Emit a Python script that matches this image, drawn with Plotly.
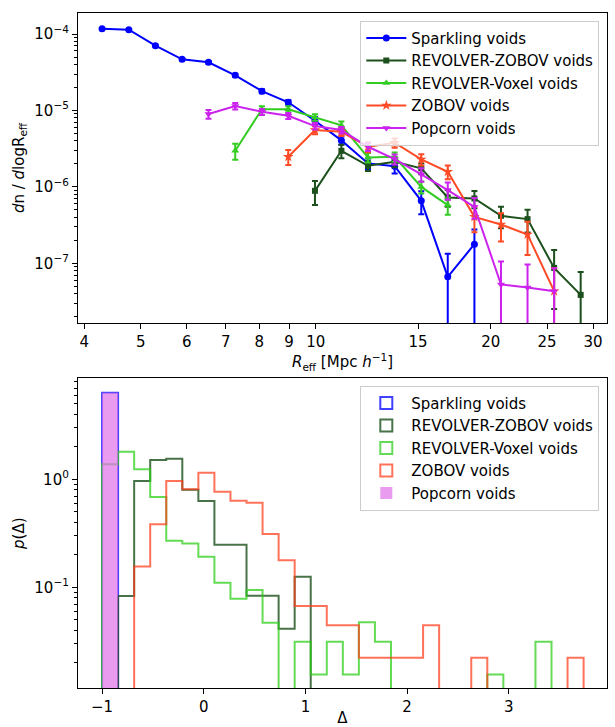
import numpy as np
import plotly.graph_objects as go

# ---------------- top panel: void size functions ----------------
LABELS = ["Sparkling voids", "REVOLVER-ZOBOV voids", "REVOLVER-Voxel voids", "ZOBOV voids", "Popcorn voids"]

sparkling_R = [4.29, 4.77, 5.30, 5.89, 6.54, 7.27, 8.08, 8.97, 9.97, 11.07, 12.30, 13.67, 15.19, 16.87, 18.75]
sparkling_n = [1.17e-4, 1.14e-4, 7.03e-5, 4.67e-5, 4.27e-5, 2.88e-5, 1.79e-5, 1.28e-5, 7.33e-6, 4.06e-6,
               2.03e-6, 1.87e-6, 6.58e-7, 6.67e-8, 1.78e-7]
sparkling_err_up = [2.3e-6, 2.3e-6, 2.1e-6, 1.6e-6, 1.7e-6, 1.4e-6, 1.1e-6, 9.0e-7, 8.8e-7, 4.9e-7,
                    3.2e-7, 3.7e-7, 2.2e-7, 6.67e-8, 1.0e-7]
sparkling_err_dn = [2.3e-6, 2.3e-6, 2.1e-6, 1.6e-6, 1.7e-6, 1.4e-6, 1.1e-6, 9.0e-7, 8.8e-7, 4.9e-7,
                    3.2e-7, 3.7e-7, 2.2e-7, 6.67e-8, 1.78e-7]

revzobov_R = [9.97, 11.07, 12.30, 13.67, 15.19, 16.87, 18.75, 20.83, 23.14, 25.71, 28.56]
revzobov_n = [8.89e-7, 2.97e-6, 1.89e-6, 2.13e-6, 1.75e-6, 7.29e-7, 7.07e-7, 4.19e-7, 3.79e-7, 8.73e-8, 3.87e-8]
revzobov_err = [3.1e-7, 5.9e-7, 2.8e-7, 3.2e-7, 2.8e-7, 1.8e-7, 1.8e-7, 1.3e-7, 1.25e-7, 6.2e-8, 3.87e-8]

revvoxel_R = [7.27, 8.08, 8.97, 9.97, 11.07, 12.30, 13.67, 15.19, 16.87]
revvoxel_n = [2.97e-6, 1.04e-5, 1.04e-5, 8.13e-6, 6.38e-6, 2.43e-6, 2.48e-6, 1.00e-6, 5.78e-7]
revvoxel_err = [7.1e-7, 9.4e-7, 9.4e-7, 8.1e-7, 7.7e-7, 3.4e-7, 3.5e-7, 1.8e-7, 1.45e-7]

zobov_R = [8.97, 9.97, 11.07, 12.30, 13.67, 15.19, 16.87, 18.75, 20.83, 23.14, 25.71]
zobov_n = [2.48e-6, 5.54e-6, 5.26e-6, 3.35e-6, 3.78e-6, 2.29e-6, 1.58e-6, 4.06e-7, 3.23e-7, 2.39e-7, 4.33e-8]
zobov_err = [5.5e-7, 6.6e-7, 6.3e-7, 5.0e-7, 5.3e-7, 3.9e-7, 3.2e-7, 1.5e-7, 1.3e-7, 1.1e-7, 4.33e-8]

popcorn_R = [6.54, 7.27, 8.08, 8.97, 9.97, 11.07, 12.30, 13.67, 15.19, 16.87, 18.75, 20.83, 23.14, 25.71]
popcorn_n = [8.97e-6, 1.14e-5, 9.62e-6, 8.53e-6, 6.25e-6, 5.54e-6, 3.35e-6, 2.31e-6, 1.46e-6, 9.09e-7,
             5.49e-7, 5.30e-8, 4.84e-8, 4.33e-8]
popcorn_err = [1.17e-6, 1.14e-6, 8.7e-7, 7.7e-7, 6.3e-7, 5.5e-7, 4.0e-7, 3.5e-7, 2.9e-7, 2.3e-7,
               1.65e-7, 5.30e-8, 4.84e-8, 4.33e-8]

R_TICKS = [4, 5, 6, 7, 8, 9, 10, 15, 20, 25, 30]

# ---------------- bottom panel: Delta distributions (density) ----------------
DELTA_EDGES = np.linspace(-1.0, 3.736, 31)
hist_sparkling = [6.33, 0, 0, 0, 0, 0, 0, 0, 0, 0, 0, 0, 0, 0, 0, 0, 0, 0, 0, 0, 0, 0, 0, 0, 0, 0, 0, 0, 0, 0]
hist_revzobov = [0, 0.0832, 0.964, 1.51, 1.55, 0.80, 0.63, 0.248, 0.248, 0.0836, 0.0836, 0.0414, 0.125,
                 0, 0, 0, 0, 0, 0, 0, 0, 0, 0, 0, 0, 0, 0, 0, 0, 0]
hist_revvoxel = [1.377, 1.80, 1.24, 0.686, 0.27, 0.255, 0.192, 0.110, 0.0784, 0.0944, 0.0469, 0, 0.0313,
                 0.0156, 0.0313, 0.0156, 0.0474, 0.0313, 0, 0, 0, 0, 0, 0, 0.0156, 0, 0, 0.0313, 0, 0]
hist_zobov = [0, 0, 0.156, 0.383, 0.964, 0.808, 1.15, 0.768, 0.634, 0.607, 0.312, 0.178, 0.0671, 0.0671,
              0.0445, 0.0445, 0.0223, 0.0223, 0.0223, 0.0223, 0.0445, 0, 0, 0.0223, 0, 0, 0, 0, 0, 0.0223]
hist_popcorn = [6.33, 0, 0, 0, 0, 0, 0, 0, 0, 0, 0, 0, 0, 0, 0, 0, 0, 0, 0, 0, 0, 0, 0, 0, 0, 0, 0, 0, 0, 0]

# ---------------- styling ----------------
C_BLUE = "#0000ff"
C_DKGREEN = "#1c501c"
C_GREEN = "#33cc22"
C_RED = "#ff4a26"
C_MAG = "#cc22ee"
H_BLUE = "rgba(0,0,255,0.75)"
H_DKGREEN = "rgba(20,75,20,0.78)"
H_GREEN = "rgba(40,205,20,0.72)"
H_RED = "rgba(255,60,25,0.72)"
H_POP = "rgba(222,112,232,0.7)"
FONT = "DejaVu Sans"

W, H = 615, 727
XL, XR = 78, 607
TOP_T, TOP_B = 13, 323
BOT_T, BOT_B = 378, 688.3

fig = go.Figure()


def add_top(x, y, eu, ed, color, symbol, size, name):
    fig.add_trace(go.Scatter(
        x=x, y=y, mode="lines+markers", name=name, legendgroup=name,
        line=dict(color=color, width=2),
        marker=dict(color=color, symbol=symbol, size=size, line=dict(width=0)),
        error_y=dict(type="data", symmetric=False, array=eu, arrayminus=ed,
                     color=color, thickness=2, width=3),
        xaxis="x", yaxis="y", legend="legend"))


add_top(sparkling_R, sparkling_n, sparkling_err_up, sparkling_err_dn, C_BLUE, "circle", 7, LABELS[0])
add_top(revzobov_R, revzobov_n, revzobov_err, revzobov_err, C_DKGREEN, "square", 6, LABELS[1])
add_top(revvoxel_R, revvoxel_n, revvoxel_err, revvoxel_err, C_GREEN, "triangle-up", 7, LABELS[2])
add_top(zobov_R, zobov_n, zobov_err, zobov_err, C_RED, "star", 8, LABELS[3])
add_top(popcorn_R, popcorn_n, popcorn_err, popcorn_err, C_MAG, "triangle-down", 7, LABELS[4])

FLOOR = 1e-4


def step_xy(edges, h):
    xs, ys = [edges[0]], [FLOOR]
    for k in range(len(h)):
        v = h[k] if h[k] > 0 else FLOOR
        xs += [edges[k], edges[k + 1]]
        ys += [v, v]
    xs.append(edges[-1])
    ys.append(FLOOR)
    return xs, ys


hists = [(hist_sparkling, H_BLUE, False), (hist_revzobov, H_DKGREEN, False),
         (hist_revvoxel, H_GREEN, False), (hist_zobov, H_RED, False), (hist_popcorn, H_POP, True)]
for h, c, filled in hists:
    xs, ys = step_xy(DELTA_EDGES, h)
    if filled:
        fig.add_trace(go.Scatter(x=xs, y=ys, mode="lines", fill="toself", fillcolor=c,
                                 line=dict(width=0, color=c), showlegend=False,
                                 hoverinfo="skip", xaxis="x2", yaxis="y2"))
    else:
        fig.add_trace(go.Scatter(x=xs, y=ys, mode="lines", line=dict(color=c, width=2),
                                 showlegend=False, hoverinfo="skip", xaxis="x2", yaxis="y2"))

# legend entries for the histograms
for (h, c, filled), name in zip(hists, LABELS):
    if filled:
        mk = dict(color=c, line=dict(width=0))
    else:
        mk = dict(color="rgba(0,0,0,0)", line=dict(color=c, width=2))
    fig.add_trace(go.Bar(x=[None], y=[None], name=name, legendgroup="h" + name, marker=mk,
                         xaxis="x2", yaxis="y2", legend="legend2"))

# ---------------- axes ----------------
xdom = [XL / W, XR / W]
top_dom = [(H - TOP_B) / H, (H - TOP_T) / H]
bot_dom = [(H - BOT_B) / H, (H - BOT_T) / H]

tickfont = dict(family=FONT, size=15, color="black")
common = dict(showline=True, linecolor="black", linewidth=1.2, mirror=True, ticks="outside",
              ticklen=5, tickwidth=1.2, tickcolor="black", showgrid=False, zeroline=False,
              tickfont=tickfont, automargin=False)

minor_top = [k * 10.0 ** e for e in range(-8, -3) for k in range(2, 10)]
minor_bot = [k * 10.0 ** e for e in range(-2, 1) for k in range(2, 10)]

fig.update_layout(
    xaxis=dict(domain=xdom, anchor="y", type="log", range=[np.log10(3.9), np.log10(31.7)],
               tickmode="array", tickvals=R_TICKS, ticktext=[str(t) for t in R_TICKS],
               title=dict(text="<i>R</i><sub>eff</sub> [Mpc <i>h</i><sup>−1</sup>]",
                          font=dict(family=FONT, size=15), standoff=2), **common),
    yaxis=dict(domain=top_dom, anchor="x", type="log", range=[-7.78, -3.725],
               tickmode="array", tickvals=[1e-7, 1e-6, 1e-5, 1e-4],
               ticktext=["10<sup>−7</sup>", "10<sup>−6</sup>", "10<sup>−5</sup>", "10<sup>−4</sup>"],
               minor=dict(tickmode="array", tickvals=minor_top, ticks="outside", ticklen=3,
                          tickcolor="black", tickwidth=0.8),
               title=dict(text="<i>d</i>n / <i>d</i>logR<sub>eff</sub>",
                          font=dict(family=FONT, size=15), standoff=6), **common),
    xaxis2=dict(domain=xdom, anchor="y2", range=[-1.2365, 3.966], tickmode="array",
                tickvals=[-1, 0, 1, 2, 3], ticktext=["−1", "0", "1", "2", "3"],
                title=dict(text="Δ", font=dict(family=FONT, size=15), standoff=6), **common),
    yaxis2=dict(domain=bot_dom, anchor="x2", type="log", range=[-1.935, 0.938],
                tickmode="array", tickvals=[0.1, 1.0], ticktext=["10<sup>−1</sup>", "10<sup>0</sup>"],
                minor=dict(tickmode="array", tickvals=minor_bot, ticks="outside", ticklen=3,
                           tickcolor="black", tickwidth=0.8),
                title=dict(text="<i>p</i>(Δ)", font=dict(family=FONT, size=15), standoff=6), **common),
    legend=dict(x=599.3 / W, xanchor="right", y=(H - 20.7) / H, yanchor="top",
                bgcolor="rgba(255,255,255,0.8)", bordercolor="#cccccc", borderwidth=1,
                font=dict(family=FONT, size=15, color="black"), traceorder="normal", itemwidth=40),
    legend2=dict(x=599.3 / W, xanchor="right", y=(H - 385.7) / H, yanchor="top",
                 bgcolor="rgba(255,255,255,0.8)", bordercolor="#cccccc", borderwidth=1,
                 font=dict(family=FONT, size=15, color="black"), traceorder="normal", itemwidth=40),
    width=W, height=H, margin=dict(l=0, r=0, t=0, b=0),
    template="none", paper_bgcolor="white", plot_bgcolor="white",
    font=dict(family=FONT, size=15, color="black"),
    showlegend=True, barmode="overlay",
)

fig.write_html("out.html", config={"displayModeBar": False},
               post_script="document.body.style.margin='0';document.body.style.overflow='hidden';")
